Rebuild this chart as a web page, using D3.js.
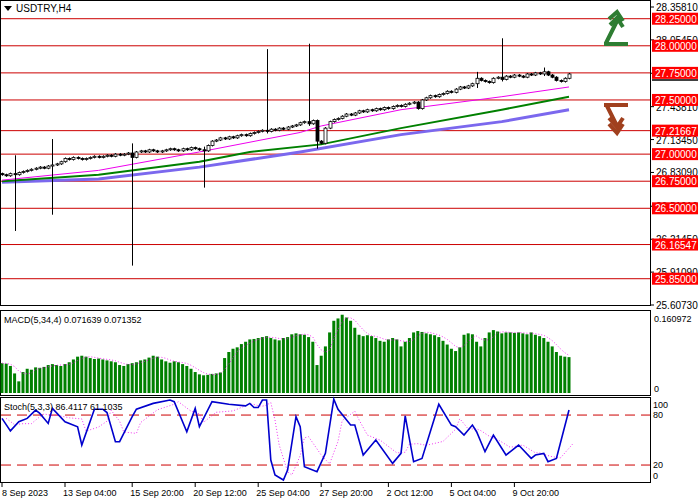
<!DOCTYPE html>
<html><head><meta charset="utf-8">
<script src="https://cdn.jsdelivr.net/npm/d3@7"></script>
<style>body{margin:0;background:#fff}text{font-family:"Liberation Sans",Arial,sans-serif}</style>
</head><body><svg id="c" width="700" height="500"></svg>
<script>
const closes=[26.81,26.80,26.82,26.81,26.83,26.84,26.85,26.86,26.87,26.88,26.87,26.89,26.90,26.91,26.93,
26.96,26.95,26.97,26.96,26.95,26.96,26.97,26.98,26.97,26.98,26.99,26.98,27.00,26.99,27.00,27.01,
26.97,27.02,27.03,27.02,27.04,27.03,27.02,27.03,27.04,27.05,27.04,27.03,27.05,27.04,27.06,27.05,27.04,
27.03,27.08,27.12,27.13,27.15,27.14,27.16,27.15,27.17,27.18,27.17,27.19,27.20,27.21,27.22,27.21,
27.23,27.22,27.24,27.23,27.25,27.26,27.27,27.29,27.30,27.28,27.31,27.12,
27.10,27.24,27.30,27.32,27.33,
27.35,27.37,27.36,27.38,27.40,27.39,27.41,27.40,27.42,27.41,27.43,27.42,27.44,27.45,27.44,27.46,27.47,27.48,27.42,
27.50,27.52,27.54,27.53,27.55,27.56,27.58,27.57,27.60,27.62,27.61,27.63,27.65,27.70,27.68,27.67,27.66,
27.70,27.71,27.69,27.72,27.71,27.73,27.72,27.71,27.74,27.73,27.75,27.74,27.76,27.73,27.71,27.68,27.67,27.70,27.74];
const firstOpen=26.82;
const shadows=[[3,26.98,26.30],[12,27.13,26.45],[31,27.09,25.98],[48,27.06,26.70],[63,27.96,27.20],[73,28.01,27.27],[75,27.30,27.06],[113,27.75,27.62],[119,28.06,27.68],[129,27.79,27.73]];
const maFast=[[0,26.76],[23,26.85],[47,27.02],[71,27.20],[76,27.26],[95,27.41],[119,27.53],[135,27.62]];
const maMid=[[0,26.75],[23,26.81],[47,26.93],[59,27.02],[76,27.09],[95,27.24],[119,27.41],[135,27.53]];
const maSlow=[[0,26.74],[23,26.77],[47,26.88],[71,27.02],[95,27.18],[119,27.30],[135,27.41]];
const levels=[28.25,28.00,27.75,27.50,27.21667,27.00,26.75,26.50,26.16547,25.85];
const levelLabels=["28.25000","28.00000","27.75000","27.50000","27.21667","27.00000","26.75000","26.50000","26.16547","25.85000"];
const priceTicks=[28.3581,28.0545,27.7463,27.4381,27.1345,26.8309,26.5191,26.2145,25.9109,25.6073];
const macd=[64,63,58,42,25,
45,52,50,55,54,56,60,62,60,58,
62,66,72,78,80,78,75,73,74,72,
70,68,66,60,58,62,64,66,70,72,
76,80,78,72,68,65,68,66,62,58,
52,45,40,38,39,41,42,44,75,88,
95,98,105,110,115,116,118,120,122,118,
115,113,118,120,126,128,126,125,120,110,
60,80,100,130,155,160,168,162,155,140,
125,122,124,122,118,112,110,115,118,115,
100,110,118,130,133,131,128,126,124,120,
112,104,95,90,98,125,128,126,110,100,
118,130,135,132,128,130,130,129,130,128,
126,130,125,122,118,110,100,88,80,78,77].map(v=>v/1000);
const stochK=[[0,76],[2,61],[4,72],[6,76],[8,86],[9,82],[11,70],[12,88],[15,72],[18,66],[19,44],[22,87],[24,87],[25,83],[27,48],[28,48],[31,78],[32,87],[36,94],[40,98],[41,96],[44,60],[46,88],[47,66],[50,96],[54,93],[58,91],[59,94],[60,89],[61,89],[62,98],[63,98],[64,26],[65,8],[67,2],[68,14],[70,78],[71,66],[72,18],[75,12],[77,34],[79,99],[80,87],[83,68],[84,68],[86,32],[89,50],[93,22],[95,34],[96,79],[98,24],[100,28],[104,93],[107,68],[108,66],[110,56],[112,68],[113,60],[115,36],[117,56],[120,32],[123,44],[126,28],[127,32],[129,34],[130,24],[132,28],[135,86]];
const dateLabels=["8 Sep 2023","13 Sep 04:00","15 Sep 20:00","20 Sep 12:00","25 Sep 04:00","27 Sep 20:00","2 Oct 12:00","5 Oct 04:00","9 Oct 20:00"];
const dateIdx=[0,15,31,46,61,76,92,107,122];

const svg=d3.select("#c");
const W=650;
const x=d3.scaleLinear().domain([0,1]).range([2,6.2]);
const y=d3.scaleLinear().domain([25.6073,28.3581]).range([305,7]);
svg.append("rect").attr("x",0.5).attr("y",0.5).attr("width",W).attr("height",305).attr("fill","none").attr("stroke","#000");
levels.forEach(l=>{
  svg.append("line").attr("x1",1).attr("x2",W).attr("y1",y(l)).attr("y2",y(l)).attr("stroke","#cc0000");
});
priceTicks.forEach(t=>{
  svg.append("line").attr("x1",W).attr("x2",W+4).attr("y1",y(t)).attr("y2",y(t)).attr("stroke","#000");
  svg.append("text").attr("x",W+6).attr("y",y(t)+4).attr("font-size",10).text(t.toFixed(5));
});
levels.forEach((l,i)=>{
  svg.append("rect").attr("x",W+2).attr("y",y(l)-6).attr("width",46).attr("height",12).attr("fill","#ff0000");
  svg.append("text").attr("x",W+5).attr("y",y(l)+4).attr("font-size",10).attr("fill","#fff").text(levelLabels[i]);
});
svg.append("line").attr("x1",W+2).attr("x2",W+48).attr("y1",y(27.75)+7).attr("y2",y(27.75)+7).attr("stroke","#000").attr("stroke-width",1.5);
const ml=d3.line().x(d=>x(d[0])).y(d=>y(d[1]));
svg.append("path").attr("d",ml(maSlow)).attr("fill","none").attr("stroke","#7b68ee").attr("stroke-width",3);
svg.append("path").attr("d",ml(maMid)).attr("fill","none").attr("stroke","#008000").attr("stroke-width",2);
svg.append("path").attr("d",ml(maFast)).attr("fill","none").attr("stroke","#ee00ee").attr("stroke-width",1);
const sh=new Map(shadows.map(s=>[s[0],s]));
closes.forEach((c,i)=>{
  const o=i===0?firstOpen:closes[i-1];
  let hi=Math.max(o,c),lo=Math.min(o,c);
  if(sh.has(i)){hi=Math.max(hi,sh.get(i)[1]);lo=Math.min(lo,sh.get(i)[2]);}
  const cx=Math.round(x(i))+0.5;
  svg.append("line").attr("x1",cx).attr("x2",cx).attr("y1",y(hi)-1).attr("y2",y(lo)+1).attr("stroke","#000");
  const top=y(Math.max(o,c)),bh=Math.max(1,y(Math.min(o,c))-top);
  svg.append("rect").attr("x",cx-1.5).attr("y",top).attr("width",3).attr("height",bh)
    .attr("fill",c>=o?"#fff":"#000").attr("stroke","#000").attr("stroke-width",0.8);
});
svg.append("path").attr("d","M4,6 L12,6 L8,11 Z").attr("fill","#000");
svg.append("text").attr("x",16).attr("y",12).attr("font-size",10).text("USDTRY,H4");
svg.append("path").attr("d","M604,44 L628,44 M606,43 L619,17 M609,19 L617,12 L623,21 M610,25 L617,18 L623,27").attr("fill","none").attr("stroke","#2e7d32").attr("stroke-width",4);
svg.append("path").attr("d","M604,105 L628,105 M607,106 L619,130 M609,124 L617,133 L623,124 M609,118 L617,127 L623,118").attr("fill","none").attr("stroke","#a0401e").attr("stroke-width",4);
const my=d3.scaleLinear().domain([0,0.160972]).range([393,318]);
svg.append("rect").attr("x",0.5).attr("y",310.5).attr("width",W).attr("height",85).attr("fill","none").attr("stroke","#000");
macd.forEach((v,i)=>{
  svg.append("rect").attr("x",x(i)-1.5).attr("y",my(v)).attr("width",3).attr("height",my(0)-my(v)).attr("fill","#008000");
});
const sig=macd.map((v,i)=>[i,d3.mean(macd.slice(Math.max(0,i-3),i+1))]);
svg.append("path").attr("d",d3.line().x(d=>x(d[0])).y(d=>my(d[1]))(sig)).attr("fill","none").attr("stroke","#ee00ee").attr("stroke-width",0.8).attr("stroke-dasharray","1,2");
svg.append("text").attr("x",4).attr("y",323).attr("font-size",9).text("MACD(5,34,4) 0.071639 0.071352");
svg.append("text").attr("x",W+4).attr("y",322).attr("font-size",9).text("0.160972");
svg.append("text").attr("x",W+4).attr("y",392).attr("font-size",9).text("0");
const sy=d3.scaleLinear().domain([0,100]).range([481.7,398.4]);
svg.append("rect").attr("x",0.5).attr("y",397.5).attr("width",W).attr("height",85).attr("fill","none").attr("stroke","#000");
[80,20].forEach(v=>svg.append("line").attr("x1",1).attr("x2",W).attr("y1",sy(v)).attr("y2",sy(v)).attr("stroke","#cc0000").attr("stroke-dasharray","10,6"));
const sD=stochK.map((d,j)=>[d[0]+1,d3.mean(stochK.slice(Math.max(0,j-2),j+1),e=>e[1])]);
svg.append("path").attr("d",d3.line().x(d=>x(d[0])).y(d=>sy(d[1]))(sD)).attr("fill","none").attr("stroke","#ee00ee").attr("stroke-width",0.8).attr("stroke-dasharray","1,2");
svg.append("path").attr("d",d3.line().x(d=>x(d[0])).y(d=>sy(d[1]))(stochK)).attr("fill","none").attr("stroke","#0000cd").attr("stroke-width",1.6);
svg.append("text").attr("x",4).attr("y",410).attr("font-size",9).text("Stoch(5,3,3) 86.4117 61.1035");
[[100,408],[80,418],[20,468],[0,479]].forEach(a=>svg.append("text").attr("x",W+3).attr("y",a[1]).attr("font-size",9).text(a[0]));
dateLabels.forEach((t,k)=>{
  const xx=x(dateIdx[k]);
  svg.append("line").attr("x1",xx).attr("x2",xx).attr("y1",483).attr("y2",487).attr("stroke","#000");
  svg.append("text").attr("x",k===0?2:xx-2).attr("y",496).attr("font-size",9).text(t);
});
</script></body></html>
